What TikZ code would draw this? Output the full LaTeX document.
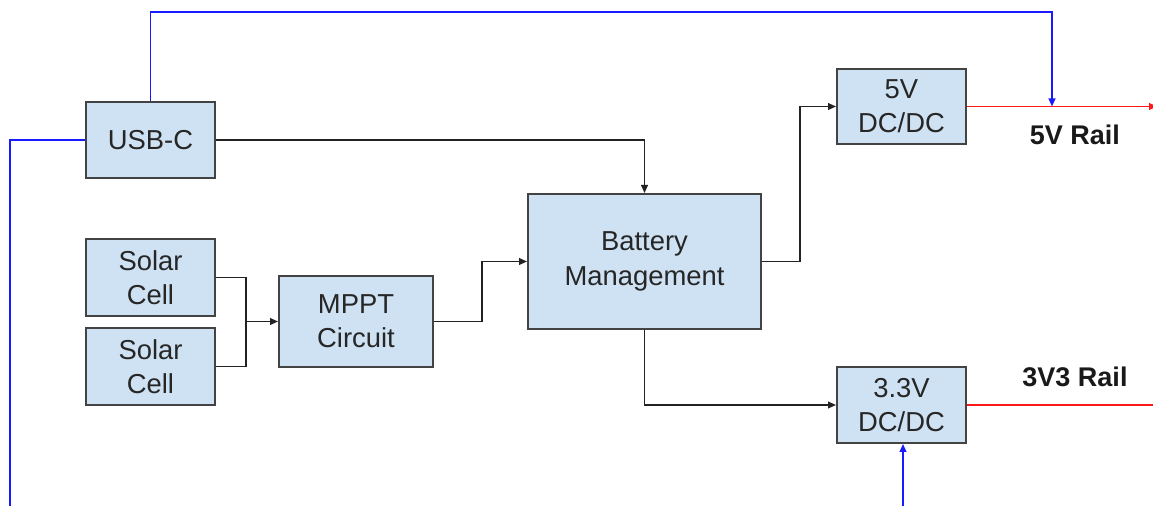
\documentclass[tikz,border=0pt]{standalone}
\usepackage{fontspec}
\setmainfont{Liberation Sans}
\usetikzlibrary{arrows.meta,positioning,calc}
\definecolor{pwBox}{HTML}{CFE2F3}
\definecolor{pwEdge}{HTML}{434343}
\definecolor{pwBlue}{HTML}{1A1AFF}
\definecolor{pwRed}{HTML}{FF1A1A}
\definecolor{pwWire}{HTML}{222222}
\tikzset{
  % Functional blocks
  blocknode/.style={
    rectangle,
    draw=pwEdge,
    fill=pwBox,
    line width=1pt,
    align=center,
    inner sep=0pt,
    font=\fontsize{13.7}{17.2}\selectfont,
    text=black!85
  },
  % Power path between blocks
  powerflow/.style={
    -{Triangle[length=4pt,width=3.4pt]},
    line width=0.7pt,
    pwWire
  },
  % USB supply lines
  usbflow/.style={
    line width=0.8pt,
    pwBlue
  },
  % Output rails
  railflow/.style={
    line width=0.8pt,
    pwRed
  },
  % Rail label
  raillabel/.style={
    font=\fontsize{13.5}{16}\selectfont\bfseries,
    text=black!90
  }
}
\begin{document}
\begin{tikzpicture}[x=0.5pt, y=-0.5pt]
\useasboundingbox (0,0) rectangle (1153,506);

%% === Blocks ===
\node[blocknode, minimum width=64.5pt, minimum height=38pt] (usbc) at (150.5,140) {USB-C};
\node[blocknode, minimum width=64.5pt, minimum height=38.5pt] (solar1) at (150.5,277.5) {Solar\\Cell};
\node[blocknode, minimum width=64.5pt, minimum height=38.5pt] (solar2) at (150.5,366.5) {Solar\\Cell};
\node[blocknode, minimum width=77pt, minimum height=45.5pt] (mppt) at (356,321.5) {MPPT\\Circuit};
\node[blocknode, minimum width=116.5pt, minimum height=67.5pt] (bms) at (644.5,261.5) {Battery\\Management};
\node[blocknode, minimum width=64.5pt, minimum height=37.5pt] (dcfive) at (901.5,106.5) {5V\\DC/DC};
\node[blocknode, minimum width=64.5pt, minimum height=38pt] (dcthree) at (901.5,405) {3.3V\\DC/DC};

%% === Rail labels ===
\node[raillabel] (lblfive) at (1075,135) {5V Rail};
\node[raillabel] (lblthree) at (1075,377) {3V3 Rail};

%% === Free ends ===
\coordinate (tapfive) at (1052,106.5);
\coordinate (endfive) at (1157,106.5);
\coordinate (endthree) at (1153,405);
\coordinate (usbfeed) at (10,506);
\coordinate (threefeed) at (903,506);
\coordinate (merge) at (246,321.5);

%% === Solar path ===
\draw[powerflow, -] (solar1.east) -| (merge);
\draw[powerflow, -] (solar2.east) -| (merge);
\draw[powerflow] (merge) -- (mppt.west);
\draw[powerflow] (mppt.east) -- ++(48,0) |- (bms.west);

%% === USB-C charging ===
\draw[powerflow] (usbc.east) -| (bms.north);

%% === Converters ===
\draw[powerflow] (bms.east) -- ++(38,0) |- (dcfive.west);
\draw[powerflow] (bms.south) |- (dcthree.west);

%% === Output rails ===
\draw[railflow, -{Triangle[length=4pt,width=3.4pt]}] (dcfive.east) -- (endfive);
\draw[railflow] (dcthree.east) -- (endthree);

%% === USB supply lines ===
\draw[usbflow, -{Triangle[length=4pt,width=3.4pt]}] (usbc.north) -- ++(0,-89) -| (tapfive);
\draw[usbflow] (usbc.west) -| (usbfeed);
\draw[usbflow, -{Triangle[length=4pt,width=3.4pt]}] (threefeed) -- (threefeed |- dcthree.south);

\end{tikzpicture}
\end{document}
